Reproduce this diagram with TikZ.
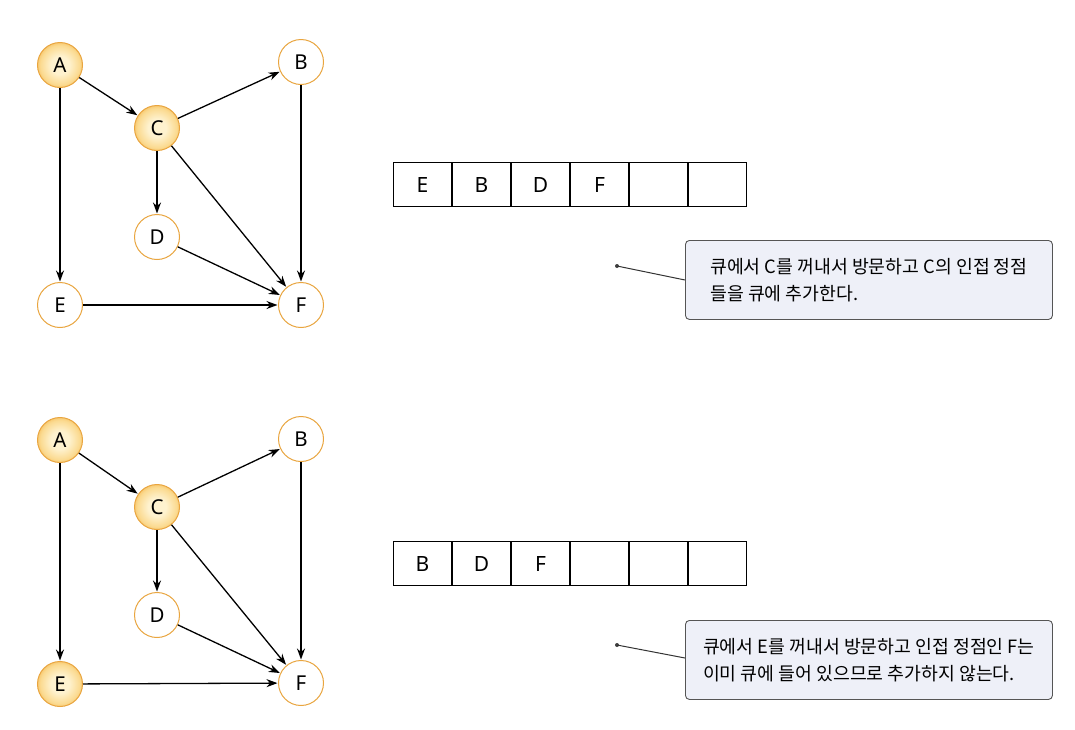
\documentclass[tikz,border=0pt]{standalone}
\usepackage{fontspec}
\setmainfont{Noto Sans}
\newfontfamily\kr{Noto Sans CJK KR}
\usetikzlibrary{arrows.meta,calc}
\definecolor{ornge}{HTML}{E9A53F}
\definecolor{vin}{HTML}{FEF2CF}
\definecolor{vmid}{HTML}{FBDA90}
\definecolor{vout}{HTML}{F3B145}
\definecolor{boxfill}{HTML}{EEF0F8}
\definecolor{boxline}{HTML}{555555}
\pgfdeclareradialshading{nodeglow}{\pgfpoint{0bp}{0bp}}{color(0bp)=(vin); color(10bp)=(vin); color(22bp)=(vmid); color(30bp)=(vout); color(50bp)=(vout)}
\tikzset{
  vnode/.style={circle,draw=ornge,line width=1pt,minimum size=45pt,inner sep=0pt,font=\fontsize{20.5}{20.5}\selectfont,fill=white},
  visited/.style={vnode,shading=nodeglow},
  edge/.style={-{Stealth[length=11pt,width=8pt]},line width=1.3pt,black,shorten >=0.5pt},
  qcell/.style={draw=black,line width=1pt,minimum width=58pt,minimum height=44pt,inner sep=0pt,font=\fontsize{21}{21}\selectfont,anchor=north west},
  callout/.style={draw=boxline,fill=boxfill,rounded corners=4pt,line width=0.9pt,minimum width=367pt,minimum height=79pt,anchor=north west,align=left,inner xsep=6pt,font=\kr\fontsize{18.3}{27}\selectfont},
  pin/.style={line width=1pt,black!80},
  dotstyle/.style={circle,fill=black!75,inner sep=0pt,minimum size=4pt}
}
\begin{document}
\begin{tikzpicture}[x=1pt,y=-1pt]
\useasboundingbox (0,0) rectangle (1075,729);
% ---------- top graph ----------
\node[visited] (A1) at (60,65) {A};
\node[vnode] (B1) at (301,62) {B};
\node[visited] (C1) at (157,128) {C};
\node[vnode] (D1) at (157,237) {D};
\node[vnode] (E1) at (60,305) {E};
\node[vnode] (F1) at (301,305) {F};
\draw[edge] (A1) -- (C1);
\draw[edge] (A1) -- (E1);
\draw[edge] (C1) -- (B1);
\draw[edge] (C1) -- (D1);
\draw[edge] (C1) -- (F1);
\draw[edge] (D1) -- (F1);
\draw[edge] (B1) -- (F1);
\draw[edge] (E1) -- (F1);
% queue top
\node[qcell] (q11) at (393,162) {E};
\node[qcell] (q12) at (q11.north east) {B};
\node[qcell] (q13) at (q12.north east) {D};
\node[qcell] (q14) at (q13.north east) {F};
\node[qcell] (q15) at (q14.north east) {};
\node[qcell] (q16) at (q15.north east) {};
% callout top
\node[callout] (t1) at (685,240) {큐에서 C를 꺼내서 방문하고 C의 인접 정점\\들을 큐에 추가한다.};
\node[dotstyle] (p1) at (617,266) {};
\coordinate (k1) at (685,280);
\draw[pin] (p1.center) -- (k1);
% ---------- bottom graph ----------
\node[visited] (A2) at (60,440) {A};
\node[vnode] (B2) at (301,439) {B};
\node[visited] (C2) at (157,507) {C};
\node[vnode] (D2) at (157,615) {D};
\node[visited] (E2) at (60,684) {E};
\node[vnode] (F2) at (301,683) {F};
\draw[edge] (A2) -- (C2);
\draw[edge] (A2) -- (E2);
\draw[edge] (C2) -- (B2);
\draw[edge] (C2) -- (D2);
\draw[edge] (C2) -- (F2);
\draw[edge] (D2) -- (F2);
\draw[edge] (B2) -- (F2);
\draw[edge] (E2) -- (F2);
% queue bottom
\node[qcell] (q21) at (393,541) {B};
\node[qcell] (q22) at (q21.north east) {D};
\node[qcell] (q23) at (q22.north east) {F};
\node[qcell] (q24) at (q23.north east) {};
\node[qcell] (q25) at (q24.north east) {};
\node[qcell] (q26) at (q25.north east) {};
% callout bottom
\node[callout] (t2) at (685,620) {큐에서 E를 꺼내서 방문하고 인접 정점인 F는\\이미 큐에 들어 있으므로 추가하지 않는다.};
\node[dotstyle] (p2) at (617,645) {};
\coordinate (k2) at (685,658);
\draw[pin] (p2.center) -- (k2);
\end{tikzpicture}
\end{document}
